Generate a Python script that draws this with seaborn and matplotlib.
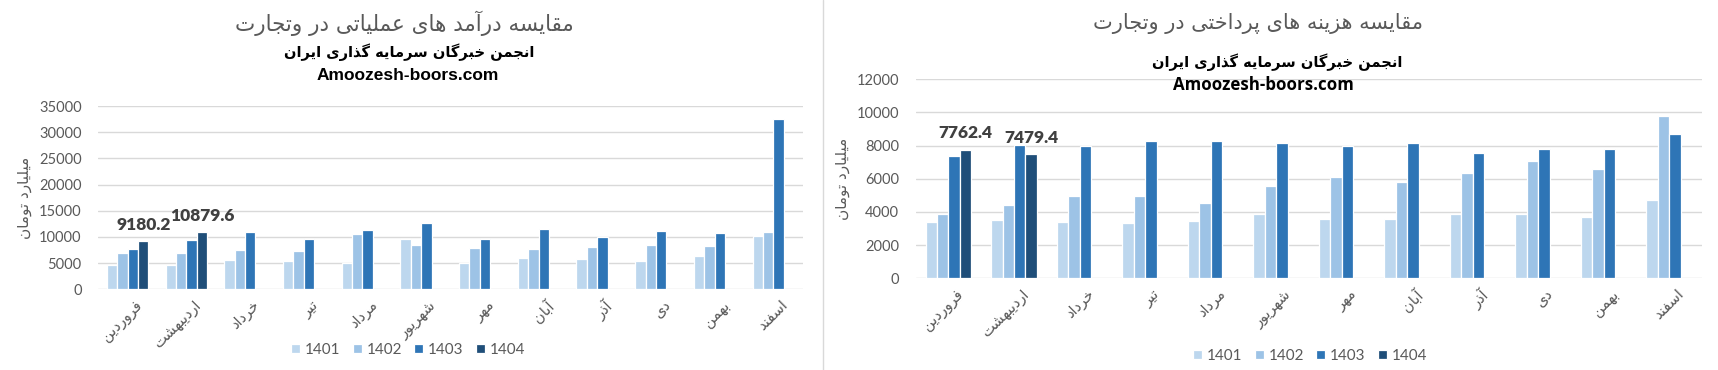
import numpy as np
import pandas as pd
import matplotlib
matplotlib.use("Agg")
import matplotlib.pyplot as plt
import matplotlib.transforms as mtransforms
import seaborn as sns

# ---------------- data ----------------
months = ["فروردین", "اردیبهشت", "خرداد", "تیر", "مرداد", "شهریور",
          "مهر", "آبان", "آذر", "دی", "بهمن", "اسفند"]
years = ["1401", "1402", "1403", "1404"]
nan = np.nan

rev_1401 = [4620, 4620, 5510, 5320, 5060, 9510, 5060, 5890, 5700, 5320, 6270, 10090]
rev_1402 = [6840, 6840, 7410, 7220, 10470, 8370, 7800, 7610, 7990, 8370, 8180, 10850]
rev_1403 = [7610, 9320, 10850, 9510, 11230, 12570, 9510, 11420, 9960, 11040, 10660, 32600]
rev_1404 = [9180.2, 10879.6, nan, nan, nan, nan, nan, nan, nan, nan, nan, nan]

cost_1401 = [3420, 3540, 3420, 3360, 3480, 3850, 3600, 3600, 3900, 3850, 3720, 4750]
cost_1402 = [3850, 4390, 4990, 4990, 4570, 5540, 6080, 5780, 6320, 7050, 6620, 9760]
cost_1403 = [7350, 8010, 7950, 8250, 8250, 8130, 7950, 8130, 7530, 7770, 7770, 8680]
cost_1404 = [7762.4, 7479.4, nan, nan, nan, nan, nan, nan, nan, nan, nan, nan]

title_rev = "مقایسه درآمد های عملیاتی در وتجارت"
title_cost = "مقایسه هزینه های پرداختی در وتجارت"
subtitle = "انجمن خبرگان سرمایه گذاری ایران"
site = "Amoozesh-boors.com"
ylabel = "میلیارد تومان"

colors = ["#BDD7EE", "#9DC3E6", "#2E75B6", "#1F4E79"]

# ------------- simple Persian shaping (no external libs) -------------
FORMS = {
    "\u0627": ("\uFE8D", "\uFE8E", None, None),
    "\u0622": ("\uFE81", "\uFE82", None, None),
    "\u0628": ("\uFE8F", "\uFE90", "\uFE91", "\uFE92"),
    "\u067E": ("\uFB56", "\uFB57", "\uFB58", "\uFB59"),
    "\u062A": ("\uFE95", "\uFE96", "\uFE97", "\uFE98"),
    "\u062B": ("\uFE99", "\uFE9A", "\uFE9B", "\uFE9C"),
    "\u062C": ("\uFE9D", "\uFE9E", "\uFE9F", "\uFEA0"),
    "\u0686": ("\uFB7A", "\uFB7B", "\uFB7C", "\uFB7D"),
    "\u062D": ("\uFEA1", "\uFEA2", "\uFEA3", "\uFEA4"),
    "\u062E": ("\uFEA5", "\uFEA6", "\uFEA7", "\uFEA8"),
    "\u062F": ("\uFEA9", "\uFEAA", None, None),
    "\u0630": ("\uFEAB", "\uFEAC", None, None),
    "\u0631": ("\uFEAD", "\uFEAE", None, None),
    "\u0632": ("\uFEAF", "\uFEB0", None, None),
    "\u0698": ("\uFB8A", "\uFB8B", None, None),
    "\u0633": ("\uFEB1", "\uFEB2", "\uFEB3", "\uFEB4"),
    "\u0634": ("\uFEB5", "\uFEB6", "\uFEB7", "\uFEB8"),
    "\u0635": ("\uFEB9", "\uFEBA", "\uFEBB", "\uFEBC"),
    "\u0636": ("\uFEBD", "\uFEBE", "\uFEBF", "\uFEC0"),
    "\u0637": ("\uFEC1", "\uFEC2", "\uFEC3", "\uFEC4"),
    "\u0638": ("\uFEC5", "\uFEC6", "\uFEC7", "\uFEC8"),
    "\u0639": ("\uFEC9", "\uFECA", "\uFECB", "\uFECC"),
    "\u063A": ("\uFECD", "\uFECE", "\uFECF", "\uFED0"),
    "\u0641": ("\uFED1", "\uFED2", "\uFED3", "\uFED4"),
    "\u0642": ("\uFED5", "\uFED6", "\uFED7", "\uFED8"),
    "\u06A9": ("\uFB8E", "\uFB8F", "\uFB90", "\uFB91"),
    "\u06AF": ("\uFB92", "\uFB93", "\uFB94", "\uFB95"),
    "\u0644": ("\uFEDD", "\uFEDE", "\uFEDF", "\uFEE0"),
    "\u0645": ("\uFEE1", "\uFEE2", "\uFEE3", "\uFEE4"),
    "\u0646": ("\uFEE5", "\uFEE6", "\uFEE7", "\uFEE8"),
    "\u0648": ("\uFEED", "\uFEEE", None, None),
    "\u0647": ("\uFEE9", "\uFEEA", "\uFEEB", "\uFEEC"),
    "\u06CC": ("\uFBFC", "\uFBFD", "\uFBFE", "\uFBFF"),
}


def fa(text):
    out = []
    n = len(text)
    for i, c in enumerate(text):
        if c not in FORMS:
            out.append(c)
            continue
        prev = text[i - 1] if i > 0 else None
        nxt = text[i + 1] if i + 1 < n else None
        join_prev = prev in FORMS and FORMS[prev][2] is not None
        join_next = nxt in FORMS and FORMS[c][2] is not None
        iso, fin, ini, med = FORMS[c]
        if join_prev and join_next:
            out.append(med)
        elif join_prev:
            out.append(fin)
        elif join_next:
            out.append(ini)
        else:
            out.append(iso)
    return "".join(reversed(out))


sns.set_theme(style="white")
plt.rcParams["font.family"] = ["DejaVu Sans"]

FA = ["DejaVu Sans"]
NUM = ["Lato", "DejaVu Sans"]
GRAY = "#595959"


def make_df(vals):
    rows = []
    for y, v in zip(years, vals):
        for m, x in zip(months, v):
            rows.append({"month": fa(m), "year": y, "value": x})
    return pd.DataFrame(rows)


W, H = 1718, 370
fig = plt.figure(figsize=(W / 100, H / 100), dpi=100)
fig.patch.set_facecolor("white")


def px_ax(x0, x1, ytop, ybot):
    return fig.add_axes([x0 / W, 1 - ybot / H, (x1 - x0) / W, (ybot - ytop) / H])


ax1 = px_ax(98.3, 802.7, 106, 289.3)
ax2 = px_ax(915.7, 1702, 79.3, 278.3)


def draw(ax, vals, ymax, ystep, group_w):
    df = make_df(vals)
    sns.barplot(data=df, x="month", y="value", hue="year", hue_order=years,
                palette=colors, width=group_w, errorbar=None, ax=ax,
                edgecolor="white", linewidth=0.9, saturation=1)
    ax.set_ylim(0, ymax)
    ax.set_yticks(np.arange(0, ymax + 1, ystep))
    ax.set_xlim(-0.5, 11.5)
    for s in ax.spines.values():
        s.set_visible(False)
    ax.grid(axis="y", color="#D9D9D9", linewidth=1.0)
    ax.set_axisbelow(True)
    ax.tick_params(axis="both", length=0, colors=GRAY)
    ax.tick_params(axis="y", pad=12)
    for t in ax.get_yticklabels():
        t.set_fontfamily(NUM)
        t.set_fontsize(10.5)
        t.set_color(GRAY)
    ax.set_xlabel("")
    ax.set_ylabel(fa(ylabel), fontfamily=FA, fontsize=11, color=GRAY, labelpad=5)
    ax.tick_params(axis="x", pad=6)
    off = mtransforms.ScaledTranslation(7 / 100, 0, fig.dpi_scale_trans)
    for t in ax.get_xticklabels():
        t.set_rotation(45)
        t.set_ha("right")
        t.set_va("top")
        t.set_rotation_mode("anchor")
        t.set_fontfamily(FA)
        t.set_fontsize(10.5)
        t.set_color(GRAY)
        t.set_transform(t.get_transform() + off)
    # data labels on the 1404 series
    cont = ax.containers[3]
    labels = []
    for b in cont:
        h = b.get_height()
        labels.append(f"{h:.1f}" if np.isfinite(h) and h > 0 else "")
    ax.bar_label(cont, labels=labels, padding=6, fontfamily=NUM,
                 fontweight="heavy", fontsize=12.5, color="#404040")
    handles, labs = ax.get_legend_handles_labels()
    if ax.get_legend() is not None:
        ax.get_legend().remove()
    return handles, labs


h1, l1 = draw(ax1, [rev_1401, rev_1402, rev_1403, rev_1404], 35000, 5000, 0.71)
h2, l2 = draw(ax2, [cost_1401, cost_1402, cost_1403, cost_1404], 12000, 2000, 0.70)

legkw = dict(loc="center", ncol=4, frameon=False, handlelength=0.6,
             handleheight=0.6, handletextpad=0.3, columnspacing=0.8,
             prop={"family": NUM, "size": 11}, labelcolor=GRAY)
fig.legend(h1, l1, bbox_to_anchor=(408 / W, 1 - 350 / H), **legkw)
fig.legend(h2, l2, bbox_to_anchor=(1310 / W, 1 - 356 / H), **legkw)

# titles
fig.text(404 / W, 1 - 23 / H, fa(title_rev), ha="center", va="center",
         fontfamily=FA, fontsize=15.5, color=GRAY)
fig.text(409 / W, 1 - 52 / H, fa(subtitle), ha="center", va="center",
         fontfamily=FA, fontsize=10.5, fontweight="bold", color="black")
fig.text(408 / W, 1 - 76 / H, site, ha="center", va="center",
         fontfamily=["Liberation Sans Narrow", "Liberation Sans"], fontsize=12.5,
         fontweight="bold", color="black")

fig.text(1258 / W, 1 - 23 / H, fa(title_cost), ha="center", va="center",
         fontfamily=FA, fontsize=15, color=GRAY)
fig.text(1277 / W, 1 - 62.5 / H, fa(subtitle), ha="center", va="center",
         fontfamily=FA, fontsize=10.5, fontweight="bold", color="black")
fig.text(1263 / W, 1 - 85.5 / H, site, ha="center", va="center",
         fontfamily=["Open Sans", "DejaVu Sans"], fontsize=12.2,
         fontweight="bold", color="black")

# separator between the two chart panels
fig.add_artist(plt.Line2D([823 / W, 823 / W], [0, 1], color="#D9D9D9",
                          linewidth=1, transform=fig.transFigure))

fig.savefig("out.png", dpi=100, facecolor="white")
